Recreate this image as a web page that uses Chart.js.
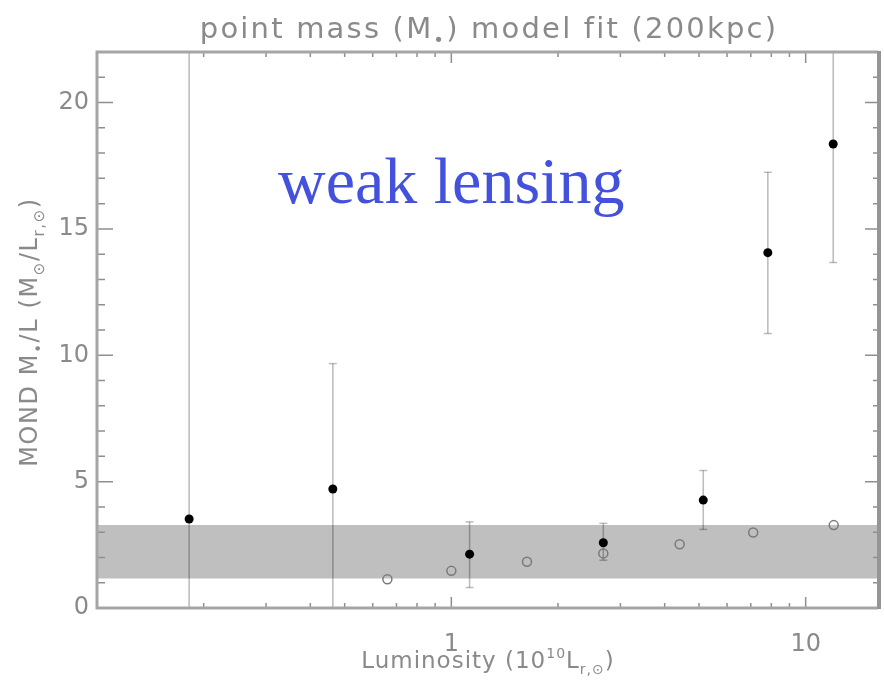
<!DOCTYPE html>
<html>
<head>
<meta charset="utf-8">
<title>MOND M/L point mass fit</title>
<script src="https://cdn.jsdelivr.net/npm/chart.js@4/dist/chart.umd.min.js"></script>
<style>
  body { margin: 0; background: #fff; }
  canvas { display: block; }
</style>
</head>
<body>
<canvas id="mlChart" width="884" height="685"></canvas>
<script>
// lensing points (filled) with their error bars
const lumLensing = [0.182, 0.463, 1.126, 2.685, 5.14, 7.82, 11.96];
const mlLensing = [3.52, 4.71, 2.13, 2.58, 4.27, 14.06, 18.36];
const mlLensingLow = [-5, -5, 0.81, 1.89, 3.11, 10.86, 13.67];
const mlLensingHigh = [30, 9.67, 3.41, 3.35, 5.44, 17.24, 30];

// stellar M/L (open circles)
const lumStellar = [0.66, 1.0, 1.635, 2.685, 4.41, 7.11, 12.0];
const mlStellar = [1.14, 1.47, 1.83, 2.16, 2.52, 2.99, 3.28];

// shaded band of allowed M/L
const bandLow = 1.17;
const bandHigh = 3.28;

const xRange = [0.1, 16];
const yRange = [0, 22];
const xTickLabels = [1, 10];
const yTickLabels = [0, 5, 10, 15, 20];

const axisGrey = '#8a8a8a';
const errColor = 'rgba(0,0,0,0.26)';

const errorBarSets = lumLensing.map((x, i) => ({
  data: [{ x: x, y: mlLensingLow[i] }, { x: x, y: mlLensingHigh[i] }],
  showLine: true,
  borderColor: errColor,
  borderWidth: 1.6,
  pointStyle: 'line',
  pointRadius: 4,
  pointBorderColor: errColor,
  pointBorderWidth: 1.5,
  clip: 0,
  order: 2
}));

const datasets = [
  {
    label: 'lensing',
    data: lumLensing.map((x, i) => ({ x: x, y: mlLensing[i] })),
    pointRadius: 4.5,
    pointBackgroundColor: '#000',
    pointBorderWidth: 0,
    order: 0
  },
  {
    label: 'stellar',
    data: lumStellar.map((x, i) => ({ x: x, y: mlStellar[i] })),
    pointRadius: 4.5,
    pointBackgroundColor: 'rgba(0,0,0,0)',
    pointBorderColor: '#7a7a7a',
    pointBorderWidth: 1.5,
    order: 1
  },
  ...errorBarSets,
  {
    label: 'band',
    data: [{ x: xRange[0], y: bandHigh }, { x: xRange[1], y: bandHigh }],
    showLine: true,
    borderWidth: 0,
    borderColor: 'rgba(0,0,0,0)',
    pointRadius: 0,
    backgroundColor: '#bfbfbf',
    fill: { value: bandLow },
    order: 3
  }
];

// text with sub/superscripts, parts = [[text, 'n'|'sub'|'sup'], ...]
function drawRich(ctx, parts, x, y, size, family, spacing) {
  const small = Math.round(size * 0.62);
  ctx.letterSpacing = spacing + 'px';
  const widths = parts.map(([t, m]) => {
    ctx.font = (m === 'n' ? size : small) + 'px ' + family;
    return ctx.measureText(t).width;
  });
  const total = widths.reduce((a, b) => a + b, 0);
  let cx = x - total / 2;
  ctx.textAlign = 'left';
  ctx.textBaseline = 'alphabetic';
  parts.forEach(([t, m], i) => {
    ctx.font = (m === 'n' ? size : small) + 'px ' + family;
    let dy = 0;
    if (m === 'sub') dy = size * 0.28;
    if (m === 'sup') dy = -size * 0.42;
    ctx.fillText(t, cx, y + dy);
    cx += widths[i];
  });
  ctx.letterSpacing = '0px';
}

const framePlugin = {
  id: 'frame',
  afterDraw(chart) {
    const ctx = chart.ctx;
    const a = chart.chartArea;
    const xs = chart.scales.x;
    const ys = chart.scales.y;
    ctx.save();

    // inward tick marks on all four sides
    ctx.strokeStyle = '#8f8f8f';
    ctx.lineWidth = 1.5;
    ctx.beginPath();
    for (let v = yRange[0]; v <= yRange[1]; v++) {
      const py = ys.getPixelForValue(v);
      const major = v % 5 === 0;
      ctx.moveTo(a.left, py);
      ctx.lineTo(a.left + (major ? 16 : 8), py);
      ctx.moveTo(a.right, py);
      ctx.lineTo(a.right - (major ? 13 : 5), py);
    }
    for (let d = 0.1; d <= 10; d *= 10) {
      for (let m = 1; m <= 9; m++) {
        const v = m * d;
        if (v <= xRange[0] * 1.001 || v > xRange[1]) continue;
        const px = xs.getPixelForValue(v);
        const major = m === 1;
        ctx.moveTo(px, a.bottom);
        ctx.lineTo(px, a.bottom - (major ? 11 : 5));
        ctx.moveTo(px, a.top);
        ctx.lineTo(px, a.top + (major ? 11 : 5));
      }
    }
    ctx.stroke();

    // axes box
    ctx.strokeStyle = '#a5a5a5';
    ctx.lineWidth = 3;
    ctx.beginPath();
    ctx.moveTo(a.right, a.top);
    ctx.lineTo(a.left, a.top);
    ctx.lineTo(a.left, a.bottom);
    ctx.lineTo(a.right, a.bottom);
    ctx.stroke();
    ctx.strokeStyle = '#959595';
    ctx.lineWidth = 4;
    ctx.beginPath();
    ctx.moveTo(a.right + 1, a.top - 1);
    ctx.lineTo(a.right + 1, a.bottom + 1);
    ctx.stroke();

    // titles
    const fam = '"DejaVu Sans"';
    ctx.fillStyle = axisGrey;
    drawRich(ctx, [['point mass (M', 'n'], ['\u2022', 'sub'], [') model fit (200kpc)', 'n']],
      489, 38, 29, fam, 2.2);
    drawRich(ctx, [['Luminosity (10', 'n'], ['10', 'sup'], ['L', 'n'], ['r,\u2299', 'sub'], [')', 'n']],
      488, 668, 23, fam, 1.0);
    ctx.save();
    ctx.translate(37, 332);
    ctx.rotate(-Math.PI / 2);
    drawRich(ctx, [['MOND M', 'n'], ['\u2022', 'sub'], ['/L (M', 'n'], ['\u2299', 'sub'], ['/L', 'n'], ['r,\u2299', 'sub'], [')', 'n']],
      0, 0, 24, fam, 1.6);
    ctx.restore();

    // annotation
    ctx.fillStyle = '#4351dc';
    ctx.font = '66px "Liberation Serif"';
    ctx.textAlign = 'left';
    ctx.textBaseline = 'alphabetic';
    ctx.fillText('weak lensing', 278, 203);

    ctx.restore();
  }
};

new Chart(document.getElementById('mlChart'), {
  type: 'scatter',
  data: { datasets },
  options: {
    responsive: false,
    animation: false,
    layout: { padding: { left: 0, right: 4, top: 52, bottom: 0 } },
    plugins: {
      legend: { display: false },
      tooltip: { enabled: false },
      title: { display: false }
    },
    scales: {
      x: {
        type: 'logarithmic',
        min: xRange[0],
        max: xRange[1],
        grid: { display: false },
        border: { display: false },
        afterBuildTicks: s => { s.ticks = xTickLabels.map(v => ({ value: v })); },
        afterFit: s => { s.height = 77; },
        ticks: {
          autoSkip: false,
          maxRotation: 0,
          padding: 14,
          color: axisGrey,
          font: { family: 'DejaVu Sans', size: 24 },
          callback: v => String(v)
        }
      },
      y: {
        min: yRange[0],
        max: yRange[1],
        grid: { display: false },
        border: { display: false },
        afterBuildTicks: s => { s.ticks = yTickLabels.map(v => ({ value: v })); },
        afterFit: s => { s.width = 97; },
        ticks: {
          padding: 0,
          color: axisGrey,
          font: { family: 'DejaVu Sans', size: 24 }
        }
      }
    }
  },
  plugins: [framePlugin]
});
</script>
</body>
</html>
